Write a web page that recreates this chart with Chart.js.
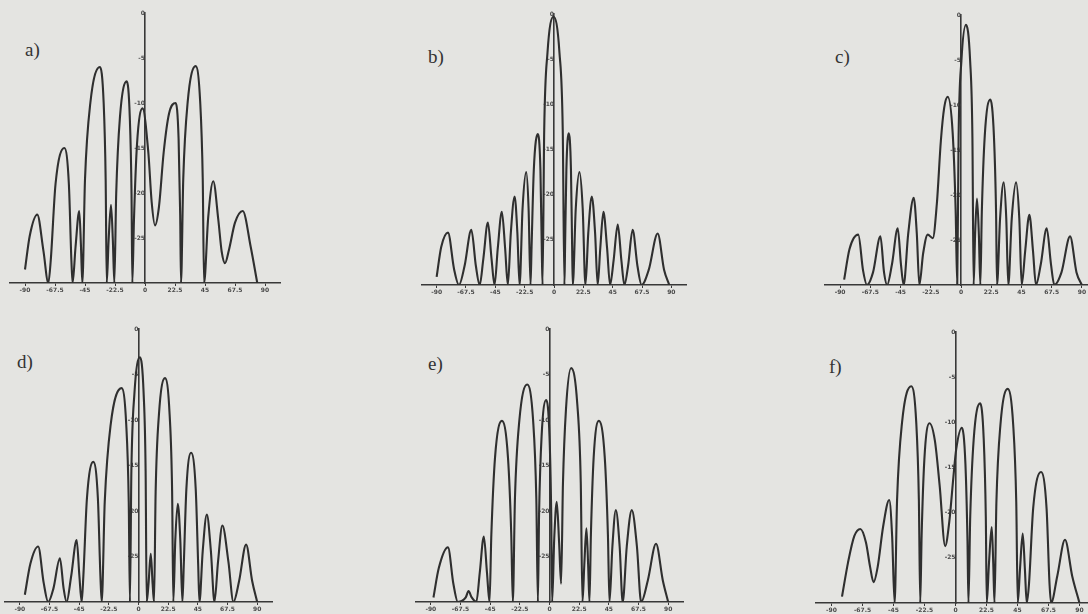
<!DOCTYPE html>
<html>
<head>
<meta charset="utf-8">
<script src="https://cdn.jsdelivr.net/npm/chart.js@4.4.1/dist/chart.umd.min.js"></script>
<style>
  html, body { margin: 0; padding: 0; }
  body { width: 1088px; height: 614px; overflow: hidden; background: #e4e4e1; position: relative; }
  canvas { position: absolute; }
  .tag { position: absolute; font-family: "Liberation Serif", "DejaVu Serif", serif; font-size: 19px; color: #333; }
</style>
</head>
<body>
<div class="tag" style="left:25px;top:39px">a)</div>
<div class="tag" style="left:428px;top:46px">b)</div>
<div class="tag" style="left:835px;top:46px">c)</div>
<div class="tag" style="left:17px;top:351px">d)</div>
<div class="tag" style="left:428px;top:353px">e)</div>
<div class="tag" style="left:829px;top:356px">f)</div>
<canvas id="panelA"></canvas>
<canvas id="panelB"></canvas>
<canvas id="panelC"></canvas>
<canvas id="panelD"></canvas>
<canvas id="panelE"></canvas>
<canvas id="panelF"></canvas>
<script>
// axis ticks (angle in degrees, level in dB)
const xTicks = [-90, -67.5, -45, -22.5, 0, 22.5, 45, 67.5, 90];
const yTicks = [-30, -25, -20, -15, -10, -5, 0];

// patterns, [angle, dB]
const patternA = [
  [-90, -28.5], [-86.5, -24.8], [-80.8, -22.4], [-76.2, -26.4], [-72.5, -30],
  [-70.7, -27.5], [-67.1, -19], [-60.5, -15], [-57.1, -19], [-55.2, -27.5], [-54.3, -30],
  [-52.1, -26], [-49.3, -22], [-48.0, -26], [-47, -30],
  [-45.0, -18.5], [-41.0, -10], [-33.8, -6], [-31.0, -10], [-29.5, -18.5], [-28.7, -30],
  [-27.3, -25.3], [-25.5, -21.3], [-24.1, -25.3], [-23, -30],
  [-21.6, -20.1], [-18.8, -11.6], [-13.7, -7.6], [-11.4, -11.6], [-10.1, -20.1], [-9.5, -30],
  [-8.3, -23.1], [-6.0, -14.6], [-1.8, -10.6], [2.5, -15.5], [5.0, -21], [7.5, -23.6],
  [10.5, -21.5], [14, -15.5], [18, -11.2], [23, -10], [25.2, -14], [26.4, -22.5], [27, -30],
  [28.7, -18.4], [32.0, -9.9], [38, -5.9], [41.4, -9.9], [43.3, -18.4], [44.3, -30],
  [47.4, -22.7], [51.2, -18.7], [55, -23], [57.5, -26.5], [60, -27.8], [63, -26.3],
  [67.5, -23.3], [73.3, -22], [79.3, -26], [84.2, -30]
];

const patternB = [
  [-90, -29.1], [-86.5, -25.8], [-81.3, -24.2], [-76.7, -28.2], [-72.9, -30],
  [-68.6, -27.9], [-63.4, -23.9], [-59.9, -27.9], [-57, -30],
  [-54.2, -27.1], [-50.7, -23.1], [-47.9, -27.1], [-45.6, -30],
  [-43.1, -25.9], [-40, -21.9], [-37.5, -25.9], [-35.4, -30],
  [-33.1, -24.2], [-30.2, -20.2], [-28.1, -24.2], [-26.4, -30],
  [-24.1, -21.5], [-21.3, -17.5], [-19.5, -21.5], [-18, -30],
  [-17.2, -25.8], [-15.5, -17.3], [-12.4, -13.3], [-10.4, -17.3], [-9.4, -25.8], [-8.8, -30],
  [-7.5, -12.8], [-5.0, -4.3], [-0.4, -0.3], [4.2, -4.3], [6.7, -12.8], [8.0, -30],
  [8.5, -25.7], [9.5, -17.2], [11.3, -13.2], [13.0, -17.2], [13.9, -25.7], [14.4, -30],
  [16.7, -21.5], [19.5, -17.5], [22.0, -21.5], [24.1, -30],
  [26.3, -24.2], [29, -20.2], [31.5, -24.2], [33.5, -30],
  [35.5, -25.9], [37.9, -21.9], [40.7, -25.9], [43, -30],
  [45.7, -27.3], [48.9, -23.3], [51.7, -27.3], [54, -30],
  [56.8, -27.9], [60.3, -23.9], [64.0, -27.9], [67.2, -30],
  [72.7, -28.3], [79.5, -24.3], [84.4, -28.3], [88.4, -30]
];

const patternC = [
  [-87, -29.4], [-83, -26], [-76.5, -24.4], [-72.9, -28.4], [-70, -30],
  [-65.5, -28.6], [-60, -24.6], [-57.3, -28.6], [-55, -30],
  [-51.4, -27.7], [-47.1, -23.7], [-44.7, -27.7], [-42.7, -30],
  [-39.3, -24.3], [-35.2, -20.3], [-32.9, -24.3], [-31, -30],
  [-28.2, -26.5], [-24.8, -24.4], [-21, -24.8], [-18, -21], [-15, -14], [-12.5, -10.3],
  [-9.9, -9.1], [-6.2, -13.1], [-4.0, -21.6], [-2.8, -30],
  [-1.8, -13.6], [0.3, -5.1], [3.7, -1.1], [6.8, -5.1], [8.5, -13.6], [9.4, -30],
  [10.5, -24.4], [11.9, -20.4], [13.3, -24.4], [14.4, -30],
  [15.5, -21.9], [17.7, -13.4], [21.8, -9.4], [24.5, -13.4], [26.1, -21.9], [26.8, -30],
  [29.1, -22.6], [31.8, -18.6], [33.7, -22.6], [35.2, -30],
  [37.8, -22.6], [41, -18.6], [43.4, -22.6], [45.2, -30],
  [47.8, -26.2], [50.9, -22.2], [53.6, -26.2], [55.8, -30],
  [59.4, -27.7], [63.8, -23.7], [67.0, -27.7], [69.5, -30],
  [74.8, -28.6], [81.2, -24.6], [86.0, -28.6], [90, -30]
];

const patternD = [
  [-86.2, -29.2], [-82, -25.8], [-76.1, -23.9], [-71.9, -27.9], [-68.5, -30],
  [-64.5, -28.5], [-59.6, -25.2], [-56.8, -28.5], [-54.5, -30],
  [-51.1, -27.2], [-46.9, -23.2], [-44.8, -27.2], [-43.1, -30],
  [-41.8, -27.1], [-39.1, -18.6], [-34.3, -14.6], [-30.8, -18.6], [-28.9, -27.1], [-27.9, -30],
  [-25.6, -19], [-21.1, -10.5], [-12.8, -6.5], [-9.3, -10.5], [-7.4, -19], [-6.5, -30],
  [-5.4, -15.6], [-3.1, -7.1], [1.1, -3.1], [3.9, -7.1], [5.4, -15.6], [6.2, -30],
  [7.6, -28], [9.3, -24.7], [10.7, -28], [11.8, -30],
  [13.0, -17.9], [15.5, -9.4], [20.1, -5.4], [23.6, -9.4], [25.5, -17.9], [26.4, -30],
  [27.9, -23.2], [29.8, -19.2], [31.7, -23.2], [33.3, -30],
  [34.3, -26.1], [36.3, -17.6], [39.9, -13.6], [43.4, -17.6], [45.3, -26.1], [46.2, -30],
  [48.7, -24.4], [51.8, -20.4], [54.9, -24.4], [57.6, -30],
  [60.3, -25.6], [63.6, -21.6], [68.2, -25.6], [72, -30],
  [76.3, -27.7], [81.6, -23.7], [86.2, -27.7], [90, -30]
];

const patternE = [
  [-88, -29.5], [-84, -26.3], [-77, -24], [-72.9, -28], [-69.5, -30],
  [-63.5, -29.5], [-61.4, -28.8], [-59, -29.5], [-55.5, -30],
  [-52.9, -26.8], [-49.8, -22.8], [-47.4, -26.8], [-45.5, -30],
  [-44.1, -22.6], [-41.3, -14.1], [-36.1, -10.1], [-31.5, -14.1], [-29.0, -22.6], [-27.8, -30],
  [-26.2, -18.6], [-22.9, -10.1], [-16.9, -6.1], [-12.4, -10.1], [-10.0, -18.6], [-8.8, -30],
  [-7.9, -20.3], [-6.0, -11.8], [-2.5, -7.8], [0.0, -11.8], [1.3, -20.3], [2, -30],
  [3.6, -23], [5.5, -19], [7.3, -23.5], [8.8, -28], [10.2, -17], [12.5, -8.8], [16.4, -4.3],
  [21.1, -8.3], [23.7, -16.8], [25, -30],
  [26.4, -25.9], [28, -21.9], [29.3, -25.9], [30.3, -30],
  [31.4, -22.6], [33.5, -14.1], [37.4, -10.1], [41.9, -14.1], [44.3, -22.6], [45.5, -30],
  [47.7, -23.9], [50.3, -19.9], [53.2, -23.9], [55.5, -30],
  [58.6, -23.9], [62.4, -19.9], [66.3, -23.9], [69.5, -30],
  [74.6, -27.6], [80.8, -23.6], [85.9, -27.6], [90, -30]
];

const patternF = [
  [-82.4, -29.3], [-78, -25.5], [-73.5, -22.6], [-69.1, -21.8], [-65, -23.3], [-62, -26],
  [-59.5, -27.7], [-56.5, -26], [-52.5, -21.5], [-48.1, -18.6], [-46, -22.6], [-44.2, -30],
  [-42.4, -18.5], [-38.8, -10], [-32.1, -6], [-28.5, -10], [-26.6, -18.5], [-25.6, -30],
  [-24.6, -22.6], [-22.6, -14.1], [-18.9, -10.1], [-15, -12], [-11.5, -17], [-7.5, -23.7],
  [-4.5, -21], [-1.5, -16], [0.5, -13], [4.6, -10.6], [7.2, -14.6], [8.7, -23.1], [9.4, -30],
  [10.7, -20.4], [13.2, -11.9], [17.9, -7.9], [20.5, -11.9], [22.0, -20.4], [22.7, -30],
  [24.3, -25.6], [26.3, -21.6], [27.4, -25.6], [28.3, -30],
  [29.7, -18.8], [32.6, -10.3], [37.9, -6.3], [41.9, -10.3], [44.1, -18.8], [45.2, -30],
  [46.8, -26.3], [48.8, -22.3], [50.4, -26.3], [51.7, -30],
  [53.3, -28], [56.4, -19.5], [62.1, -15.5], [66.1, -19.5], [68.3, -28], [69.4, -30],
  [73.9, -27], [79.5, -23], [84.7, -27], [90, -30]
];

const lineColor = '#2f2f2f';
const axisColor = '#383838';
const tickFont = { size: 6, family: 'DejaVu Sans', weight: 'bold' };
const X_SPAN = 102;

// cx = pixel of 0 deg, k = px per degree, top/bottom = pixel of 0 dB / -30 dB
function drawPanel(id, points, cx, k, top, bottom) {
    const canvas = document.getElementById(id);
    const padTop = 8;
    const axisH = 16;
    canvas.width = Math.round(2 * X_SPAN * k);
    canvas.height = padTop + (bottom - top) + axisH;
    canvas.style.left = Math.round(cx - X_SPAN * k) + 'px';
    canvas.style.top = (top - padTop) + 'px';

    new Chart(canvas, {
        type: 'line',
        data: {
            datasets: [{
                data: points,
                borderColor: lineColor,
                borderWidth: 2.1,
                pointRadius: 0,
                fill: false,
                tension: 0.4,
                cubicInterpolationMode: 'monotone'
            }]
        },
        options: {
            responsive: false,
            animation: false,
            events: [],
            layout: { padding: { top: padTop, left: 0, right: 0, bottom: 0 } },
            plugins: {
                legend: { display: false },
                tooltip: { enabled: false }
            },
            scales: {
                x: {
                    type: 'linear',
                    min: -X_SPAN,
                    max: X_SPAN,
                    afterBuildTicks: s => { s.ticks = xTicks.map(v => ({ value: v })); },
                    afterFit: s => { s.height = axisH; },
                    grid: { display: true, drawOnChartArea: false, drawTicks: true, tickLength: 3, color: axisColor },
                    border: { display: true, color: axisColor, width: 1.6 },
                    ticks: { font: tickFont, color: '#4a4a4a', padding: 1, maxRotation: 0, autoSkip: false }
                },
                y: {
                    type: 'linear',
                    min: -30,
                    max: 0,
                    position: { x: 0 },
                    afterBuildTicks: s => { s.ticks = yTicks.map(v => ({ value: v })); },
                    grid: { display: false },
                    border: { display: true, color: axisColor, width: 1.6 },
                    ticks: {
                        font: tickFont,
                        color: '#4a4a4a',
                        padding: 3,
                        callback: v => (v === -30 ? '' : String(v))
                    }
                }
            }
        }
    });
}

drawPanel('panelA', patternA, 145, 1.333, 13, 283);
drawPanel('panelB', patternB, 554.5, 1.306, 14, 285);
drawPanel('panelC', patternC, 961, 1.344, 15, 285);
drawPanel('panelD', patternD, 138.5, 1.317, 329, 602);
drawPanel('panelE', patternE, 550, 1.32, 329, 602);
drawPanel('panelF', patternF, 956, 1.379, 332, 603);
</script>
</body>
</html>
